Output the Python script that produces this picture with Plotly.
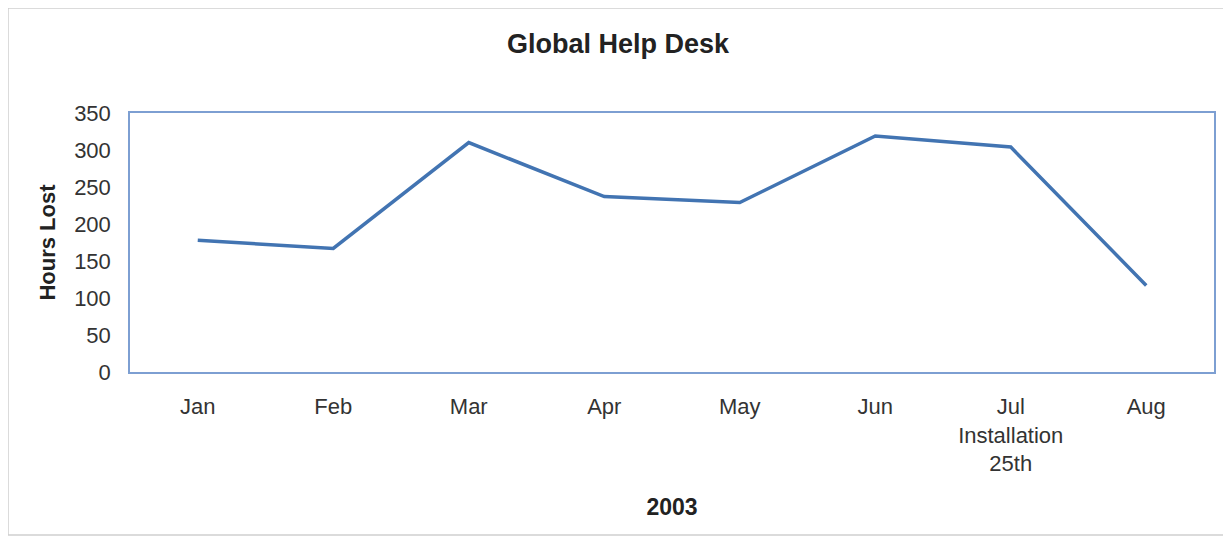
import plotly.graph_objects as go

months = ["Jan", "Feb", "Mar", "Apr", "May", "Jun", "Jul", "Aug"]
tick_labels = ["Jan", "Feb", "Mar", "Apr", "May", "Jun", "Jul<br>Installation<br>25th", "Aug"]
hours_lost = [178, 167, 310, 237, 229, 319, 304, 117]
y_ticks = [0, 50, 100, 150, 200, 250, 300, 350]

x_idx = list(range(len(months)))

# page body has an 8px margin; size the figure so the plot area lands where the reference has it
W, H = 1223, 530
L, R, T, B = 122, 17, 105, 166
pw, ph = W - L - R, H - T - B

fig = go.Figure()
fig.add_trace(go.Scatter(
    x=x_idx, y=hours_lost, mode="lines",
    line=dict(color="#4274b2", width=3.5),
    hoverinfo="skip", showlegend=False,
))

font_family = "Liberation Sans, Arial, sans-serif"
fig.update_layout(
    width=W, height=H,
    paper_bgcolor="white", plot_bgcolor="white",
    margin=dict(l=L, r=R, t=T, b=B),
    title=dict(text="<b>Global Help Desk</b>", x=(618 - 8) / W, xanchor="center",
               y=1 - (44 - 8) / H, yanchor="middle",
               font=dict(family=font_family, size=27, color="#222222")),
    font=dict(family=font_family, size=22, color="#333333"),
    xaxis=dict(
        range=[-0.5, 7.5], tickmode="array", tickvals=x_idx, ticktext=tick_labels,
        showgrid=False, zeroline=False, showline=True, linecolor="#7d9fd2",
        linewidth=1.5, mirror=True, ticks="", ticklabelstandoff=14,
        tickfont=dict(size=22, color="#333333"),
        title=dict(text="<b>2003</b>", standoff=24,
                   font=dict(size=23, color="#222222")),
    ),
    yaxis=dict(
        range=[0, 350], tickmode="array", tickvals=y_ticks,
        showgrid=False, zeroline=False, showline=True, linecolor="#7d9fd2",
        linewidth=1.5, mirror=True, ticks="", ticklabelstandoff=13,
        tickfont=dict(size=22, color="#333333"),
        title=dict(text="<b>Hours Lost</b>", standoff=12,
                   font=dict(size=22, color="#222222")),
    ),
    shapes=[dict(type="rect", xref="paper", yref="paper",
                 x0=(0 - L) / pw, x1=(1220 - L) / pw,
                 y0=-(B - 3) / ph, y1=(ph + T) / ph,
                 line=dict(color="#cfcfcf", width=1.5), fillcolor="rgba(0,0,0,0)",
                 layer="below")],
)

fig.write_html("out.html")
